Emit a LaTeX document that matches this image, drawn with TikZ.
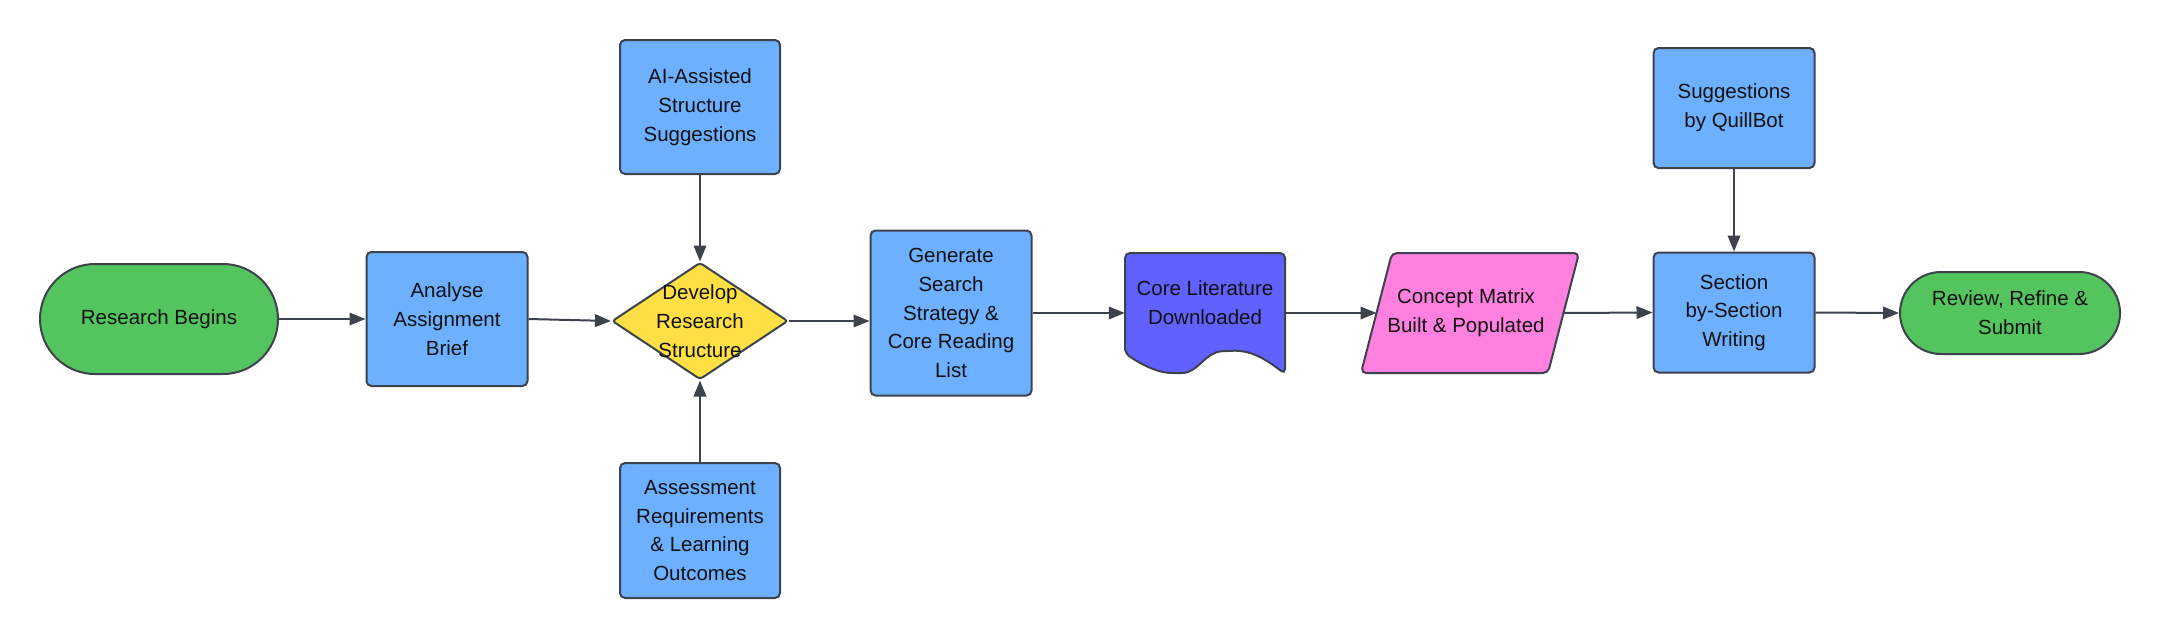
\documentclass[tikz,border=0pt]{standalone}
\usepackage{fontspec}
\setmainfont{Liberation Sans}
\usetikzlibrary{shapes.geometric,arrows.meta}
\definecolor{edge}{HTML}{3D424D}
\definecolor{grn}{HTML}{54C45E}
\definecolor{blu}{HTML}{6CB0FF}
\definecolor{yel}{HTML}{FFDF46}
\definecolor{pur}{HTML}{6161FF}
\definecolor{pnk}{HTML}{FF80DF}
\definecolor{ink}{HTML}{111111}
\begin{document}
\begin{tikzpicture}[x=1pt,y=-1pt,
  txt/.style={inner sep=0pt, align=center, font=\fontsize{20.5}{28.7}\selectfont, text=ink},
  base/.style={txt, draw=edge, line width=2pt},
  box/.style={base, rectangle, rounded corners=5pt, fill=blu},
  term/.style={base, rectangle, rounded corners=#1, fill=grn},
  arr/.style={draw=edge, line width=2pt, -{Triangle[length=16pt,width=12.5pt]}},
  shp/.style={draw=edge, line width=2pt}
]
\fill[white] (0,0) rectangle (2160,638);
\useasboundingbox (0,0) rectangle (2160,638);

% terminals
\node[term=55pt, minimum width=238pt, minimum height=110pt] (rb) at (159,319) {Research Begins};
\node[term=41pt, minimum width=220pt, minimum height=82pt] (rv) at (2010,313) {Review, Refine \&\\Submit};

% process boxes
\node[box, minimum width=161pt, minimum height=134pt] (an) at (447,319) {Analyse\\Assignment\\Brief};
\node[box, minimum width=160pt, minimum height=134pt] (ai) at (700,107) {AI-Assisted\\Structure\\Suggestions};
\node[box, minimum width=160pt, minimum height=135pt] (as) at (700,530.5) {Assessment\\Requirements\\\& Learning\\Outcomes};
\node[box, minimum width=161pt, minimum height=165pt] (gn) at (951,313) {Generate\\Search\\Strategy \&\\Core Reading\\List};
\node[box, minimum width=161pt, minimum height=120pt] (sw) at (1734,312.5) {Section\\by-Section\\Writing};
\node[box, minimum width=161pt, minimum height=120pt] (sq) at (1734,108) {Suggestions\\by QuillBot};

% decision
\node[base, diamond, fill=yel, rounded corners=3pt, minimum width=176pt, minimum height=117pt] (dv) at (700,321) {};
\node[txt] at (700,321) {Develop\\Research\\Structure};

% document
\node[inner sep=0pt, minimum width=160pt, minimum height=120pt] (cl) at (1205,313) {};
\draw[shp, fill=pur, rounded corners=5pt] (1125,353) -- (1125,253) -- (1285,253) -- (1285,374)
  .. controls (1262,356) and (1248,350) .. (1227,351)
  .. controls (1205,352) and (1198,373) .. (1177,373)
  .. controls (1158,373) and (1140,364) .. (1125,353) -- cycle;
\node[txt] at (1205,303) {Core Literature\\Downloaded};

% data (parallelogram)
\draw[shp, fill=pnk, rounded corners=5pt] (1361,373) -- (1392,253) -- (1579,253) -- (1548,373) -- cycle;
\coordinate (cmW) at (1376.5,313);
\coordinate (cmE) at (1563.5,313);
\node[txt] (cm) at (1466,313) {Concept Matrix\\Built \& Populated};

% connectors
\draw[arr] (rb.east) -- (an.west);
\draw[arr] (an.east) -- (dv.west);
\draw[arr] (ai.south) -- (dv.north);
\draw[arr] (as.north) -- (dv.south);
\draw[arr] (dv.east) -- (dv.east -| gn.west);
\draw[arr] (gn.east) -- (cl.west);
\draw[arr] (cl.east) -- (cmW);
\draw[arr] (cmE) -- (sw.west);
\draw[arr] (sq.south) -- (sw.north);
\draw[arr] (sw.east) -- (rv.west);
\end{tikzpicture}
\end{document}
